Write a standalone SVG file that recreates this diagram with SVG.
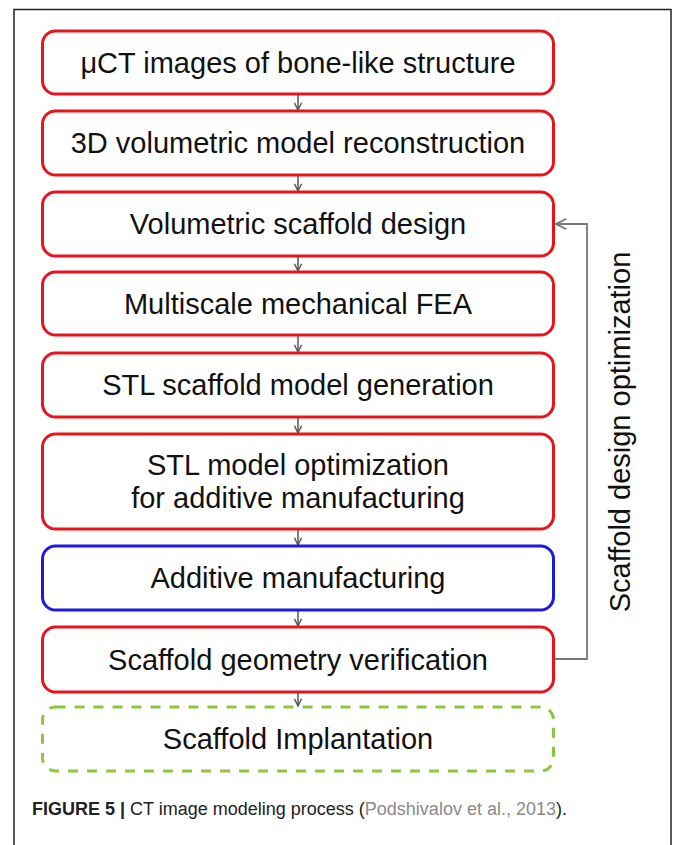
<svg xmlns="http://www.w3.org/2000/svg" width="673" height="845" viewBox="0 0 673 845">
<style>
  .box { fill: #ffffff; stroke: #e8141c; stroke-width: 3; }
  .blue { stroke: #1a1ae0; }
  .dash { stroke: #8cc63f; stroke-dasharray: 10 9; }
  .lbl { font-family: "Liberation Sans", Arial, sans-serif; font-size: 29px; fill: #111; text-anchor: middle; }
  .conn { fill: none; stroke: #555; stroke-width: 1.5; }
  .fb { fill: none; stroke: #777; stroke-width: 1.8; }
  .cap { font-family: "Liberation Sans", Arial, sans-serif; font-size: 18px; fill: #222; }
</style>
<defs>
  <marker id="arr" viewBox="0 0 10 10" refX="9" refY="5" markerWidth="9" markerHeight="9" markerUnits="userSpaceOnUse" orient="auto">
    <path d="M1,1 L9,5 L1,9" fill="none" stroke="#555" stroke-width="1.6"/>
  </marker>
  <marker id="arrfb" viewBox="0 0 10 10" refX="9" refY="5" markerWidth="13" markerHeight="13" markerUnits="userSpaceOnUse" orient="auto">
    <path d="M1,1 L9,5 L1,9" fill="none" stroke="#777" stroke-width="1.4"/>
  </marker>
</defs>
<rect x="0" y="0" width="673" height="845" fill="#ffffff"/>
<path d="M14,845 V9.5 H671 V845" fill="none" stroke="#222" stroke-width="1.5"/>

<g id="connectors">
  <line class="conn" x1="298" y1="94" x2="298" y2="110" marker-end="url(#arr)"/>
  <line class="conn" x1="298" y1="175" x2="298" y2="191" marker-end="url(#arr)"/>
  <line class="conn" x1="298" y1="256" x2="298" y2="271" marker-end="url(#arr)"/>
  <line class="conn" x1="298" y1="335" x2="298" y2="352" marker-end="url(#arr)"/>
  <line class="conn" x1="298" y1="417" x2="298" y2="433" marker-end="url(#arr)"/>
  <line class="conn" x1="298" y1="529" x2="298" y2="545" marker-end="url(#arr)"/>
  <line class="conn" x1="298" y1="610" x2="298" y2="626" marker-end="url(#arr)"/>
  <line class="conn" x1="298" y1="692" x2="298" y2="706" marker-end="url(#arr)"/>
  <path class="fb" d="M555,659 H587 V224 H556" marker-end="url(#arrfb)"/>
</g>

<g id="n1"><rect class="box" x="42.5" y="31" width="511" height="63" rx="13"/><text class="lbl" x="298" y="72.5">μCT images of bone-like structure</text></g>
<g id="n2"><rect class="box" x="42.5" y="111" width="511" height="64" rx="13"/><text class="lbl" x="298" y="153">3D volumetric model reconstruction</text></g>
<g id="n3"><rect class="box" x="42.5" y="192" width="511" height="64" rx="13"/><text class="lbl" x="298" y="234">Volumetric scaffold design</text></g>
<g id="n4"><rect class="box" x="42.5" y="272" width="511" height="63" rx="13"/><text class="lbl" x="298" y="313.5">Multiscale mechanical FEA</text></g>
<g id="n5"><rect class="box" x="42.5" y="353" width="511" height="64" rx="13"/><text class="lbl" x="298" y="395">STL scaffold model generation</text></g>
<g id="n6"><rect class="box" x="42.5" y="434" width="511" height="95" rx="13"/><text class="lbl" x="298" y="475">STL model optimization</text><text class="lbl" x="298" y="508">for additive manufacturing</text></g>
<g id="n7"><rect class="box blue" x="42.5" y="546" width="511" height="64" rx="13"/><text class="lbl" x="298" y="588">Additive manufacturing</text></g>
<g id="n8"><rect class="box" x="42.5" y="627" width="511" height="65" rx="13"/><text class="lbl" x="298" y="669.5">Scaffold geometry verification</text></g>
<g id="n9"><rect class="box dash" x="42.5" y="707" width="511" height="64" rx="13"/><text class="lbl" x="298" y="749">Scaffold Implantation</text></g>

<g id="loop-label"><text class="lbl" transform="translate(630,432) rotate(-90)" x="0" y="0">Scaffold design optimization</text></g>

<text class="cap" x="32" y="815"><tspan font-weight="bold">FIGURE 5 | </tspan>CT image modeling process (<tspan fill="#8a8a8a">Podshivalov et al., 2013</tspan>).</text>
</svg>
